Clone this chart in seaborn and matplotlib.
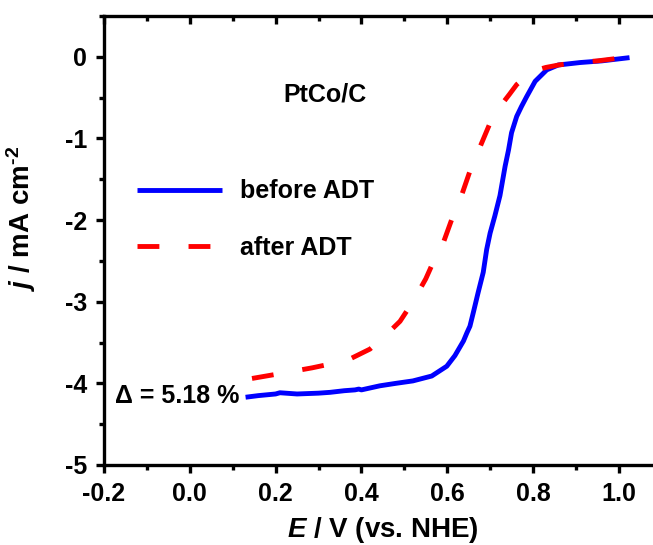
import matplotlib
matplotlib.use("Agg")
import matplotlib.pyplot as plt
import seaborn as sns
import numpy as np

# Polarization curves (E in V vs. NHE, j in mA cm^-2)
before_E = [0.13, 0.16, 0.20, 0.21, 0.25, 0.30, 0.327, 0.36, 0.385, 0.394, 0.40,
            0.443, 0.48, 0.52, 0.564, 0.599, 0.618, 0.638, 0.646, 0.653, 0.661,
            0.672, 0.684, 0.692, 0.70, 0.711, 0.723, 0.735, 0.743, 0.75, 0.762,
            0.773, 0.785, 0.805, 0.832, 0.859, 0.91, 0.96, 1.025]
before_j = [-4.17, -4.15, -4.13, -4.115, -4.13, -4.12, -4.11, -4.09, -4.08, -4.07, -4.08,
            -4.03, -4.00, -3.97, -3.91, -3.79, -3.66, -3.48, -3.38, -3.30, -3.13,
            -2.89, -2.64, -2.36, -2.16, -1.95, -1.70, -1.34, -1.14, -0.93, -0.73,
            -0.61, -0.49, -0.30, -0.16, -0.10, -0.07, -0.05, -0.01]

after_E = [0.145, 0.20, 0.285, 0.33, 0.37, 0.42, 0.455, 0.49, 0.52, 0.55, 0.567,
           0.588, 0.61, 0.63, 0.653, 0.672, 0.70, 0.723, 0.745, 0.762, 0.797, 0.83,
           0.86, 0.90, 0.95, 1.026]
after_j = [-3.94, -3.89, -3.81, -3.76, -3.71, -3.58, -3.42, -3.24, -3.00, -2.72, -2.52,
           -2.32, -2.00, -1.75, -1.40, -1.16, -0.81, -0.61, -0.46, -0.34, -0.18, -0.13,
           -0.10, -0.07, -0.05, 0.00]

series_labels = ["before ADT", "after ADT"]
x_ticks = [-0.2, 0.0, 0.2, 0.4, 0.6, 0.8, 1.0]
x_tick_labels = ["-0.2", "0.0", "0.2", "0.4", "0.6", "0.8", "1.0"]
y_ticks = [0, -1, -2, -3, -4, -5]
y_tick_labels = ["0", "-1", "-2", "-3", "-4", "-5"]
sample_label = "PtCo/C"
delta_label = "\u0394 = 5.18 %"

sns.set_theme(style="ticks")
plt.rcParams["font.family"] = ["Liberation Sans", "DejaVu Sans"]
plt.rcParams["font.weight"] = "bold"
plt.rcParams["axes.unicode_minus"] = False
plt.rcParams["text.color"] = "black"
plt.rcParams["axes.labelcolor"] = "black"
plt.rcParams["xtick.color"] = "black"
plt.rcParams["ytick.color"] = "black"
plt.rcParams["mathtext.fontset"] = "custom"
plt.rcParams["mathtext.it"] = "Liberation Sans:bold:italic"
plt.rcParams["mathtext.rm"] = "Liberation Sans:bold"
plt.rcParams["mathtext.bf"] = "Liberation Sans:bold"

FS = 18
LW_SPINE = 2.4

fig = plt.figure(figsize=(6.53, 5.45), dpi=100)
ax = fig.add_axes([104 / 653, 80 / 545, 557.7 / 653, 449 / 545])

sns.lineplot(x=before_E, y=before_j, ax=ax, color="#0000ff", linewidth=3.5,
             label=series_labels[0], sort=False, estimator=None)
sns.lineplot(x=after_E, y=after_j, ax=ax, color="#ff0000", linewidth=3.5,
             label=series_labels[1], sort=False, estimator=None)
ax.lines[-1].set_dashes((4.5, 6))
for ln in ax.lines:
    ln.set_solid_capstyle("butt")
    ln.set_dash_capstyle("butt")
    ln.set_solid_joinstyle("round")

ax.set_xlim(-0.2, 1.1)
ax.set_ylim(-5, 0.5)

ax.set_xticks(x_ticks)
ax.set_xticklabels(x_tick_labels, fontsize=FS, fontweight="bold")
ax.set_yticks(y_ticks)
ax.set_yticklabels(y_tick_labels, fontsize=FS, fontweight="bold")
ax.set_xticks(np.arange(-0.1, 1.0, 0.2), minor=True)
ax.set_yticks(np.arange(-4.5, 0.6, 1.0), minor=True)
ax.tick_params(which="major", direction="out", length=6, width=LW_SPINE, pad=6,
               color="black", labelcolor="black")
ax.tick_params(which="minor", direction="out", length=3.3, width=LW_SPINE, color="black")
ax.tick_params(axis="x", top=False)
ax.tick_params(axis="y", right=False)

for sp in ax.spines.values():
    sp.set_visible(True)
    sp.set_linewidth(LW_SPINE)
    sp.set_color("black")

# Inward ticks on the top and right frame edges
top = ax.twiny()
top.set_xlim(ax.get_xlim())
top.set_xticks(x_ticks)
top.set_xticks(np.arange(-0.1, 1.0, 0.2), minor=True)
top.tick_params(which="major", direction="in", length=6, width=LW_SPINE,
                labeltop=False, color="black")
top.tick_params(which="minor", direction="in", length=3.3, width=LW_SPINE, color="black")
right = ax.twinx()
right.set_ylim(ax.get_ylim())
right.set_yticks(y_ticks)
right.set_yticks(np.arange(-4.5, 0.6, 1.0), minor=True)
right.tick_params(which="major", direction="in", length=6, width=LW_SPINE,
                  labelright=False, color="black")
right.tick_params(which="minor", direction="in", length=3.3, width=LW_SPINE, color="black")
for a in (top, right):
    for sp in a.spines.values():
        sp.set_visible(False)

ax.set_xlabel(r"$E$ / V (vs. NHE)", fontsize=20, fontweight="bold")
ax.set_ylabel(r"$j$ / mA cm$^{\text{-}2}$", fontsize=20, fontweight="bold")
ax.xaxis.set_label_coords(0.4994, -0.112)
ax.yaxis.set_label_coords(-0.118, 0.55)

ax.text(0.315, -0.46, sample_label, fontsize=FS, fontweight="bold",
        ha="center", va="center")
ax.text(-0.174, -4.16, delta_label, fontsize=FS, fontweight="bold",
        ha="left", va="center")

ax.legend(loc="upper left", bbox_to_anchor=(0.059, 0.636), frameon=False,
          handlelength=3.4, handletextpad=0.74, labelspacing=1.3,
          borderpad=0, borderaxespad=0,
          prop={"weight": "bold", "size": FS})

fig.savefig("out.png", dpi=100)
